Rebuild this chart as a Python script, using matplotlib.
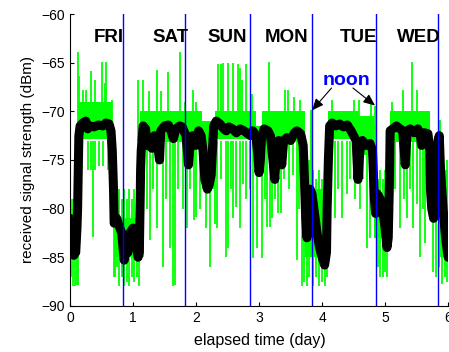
import matplotlib
matplotlib.use("Agg")
import matplotlib.pyplot as plt

# ---------------- data ----------------
# green raw-signal band segments (start day, end day, low dBm, high dBm)
band_start = [0.00, 0.13, 0.66, 0.72, 1.11, 2.10, 2.30, 2.95, 3.05, 3.73, 4.10, 4.58, 4.83, 5.07, 5.72, 5.84]
band_end   = [0.13, 0.66, 0.72, 1.11, 2.10, 2.30, 2.95, 3.05, 3.73, 4.10, 4.58, 4.83, 5.07, 5.72, 5.84, 6.00]
band_lo    = [-85.0, -72.8, -80.0, -85.0, -73.2, -78.0, -72.8, -76.0, -73.2, -85.0, -72.8, -74.5, -83.0, -73.2, -81.0, -85.0]
band_hi    = [-80.0, -69.0, -72.0, -81.0, -70.0, -71.0, -70.0, -71.5, -70.0, -78.0, -70.0, -70.5, -79.0, -70.0, -77.0, -76.0]

# green raw-signal spikes (day, low dBm, high dBm)
spike_x = [0.127, 0.15, 0.20, 0.25, 0.34, 0.40, 0.50, 0.55, 0.57, 0.66,
           1.08, 1.16, 1.26, 1.38, 1.45, 1.56, 1.75, 1.83, 1.95, 2.00,
           2.35, 2.40, 2.43, 2.51, 2.59, 2.67, 2.70, 2.73, 2.80, 2.88,
           3.15, 3.41, 3.46, 3.55, 3.65, 3.83, 4.15, 4.50, 4.58, 4.78, 4.84,
           5.11, 5.29, 5.42, 5.50, 5.87,
           0.02, 0.05, 0.08, 0.11, 0.13,
           0.18, 0.29, 0.33, 0.36, 0.39, 0.46, 0.52, 0.60,
           0.69, 0.71, 0.75, 0.78, 0.82, 0.86, 0.90, 0.94, 0.98, 1.02, 1.06, 1.09,
           1.16, 1.22, 1.27, 1.32, 1.38, 1.48, 1.52, 1.59, 1.64, 1.67, 1.72, 1.79,
           1.85, 1.90, 1.96, 2.00, 2.06, 2.15, 2.22, 2.30,
           2.33, 2.40, 2.48, 2.51, 2.55, 2.59, 2.63, 2.70, 2.75, 2.80, 2.86, 2.91, 2.96, 3.04,
           3.10, 3.13, 3.18, 3.21, 3.26, 3.30, 3.35, 3.40, 3.48, 3.54, 3.60, 3.64,
           3.68, 3.72, 3.76, 3.80, 3.85, 3.90, 3.95, 4.00, 4.04, 4.08,
           4.12, 4.20, 4.26, 4.32, 4.40, 4.45, 4.52, 4.60, 4.65, 4.71, 4.76,
           4.88, 4.92, 4.96, 5.00, 5.03,
           5.10, 5.16, 5.24, 5.30, 5.34, 5.40, 5.45, 5.50, 5.56, 5.60, 5.64, 5.68,
           5.76, 5.80, 5.85, 5.90, 5.95, 5.99]
spike_lo = [-72, -72, -72, -72, -72, -72, -72, -72, -72, -72,
            -73, -73, -73, -73, -73, -73, -73, -73, -73, -73,
            -72, -72, -72, -72, -72, -72, -72, -72, -72, -72,
            -72, -72, -72, -72, -72, -80, -72, -72, -72, -72, -78,
            -72, -72, -72, -72, -74,
            -87.0, -88.0, -88.0, -87.9, -87.9,
            -78.4, -76.0, -76.0, -82.9, -76.0, -75.6, -75.6, -76.0,
            -87.0, -87.0, -86.0, -88.0, -87.0, -88.0, -87.5, -88.0, -87.0, -87.5, -87.0, -88.0,
            -85.0, -80.0, -83.2, -78.0, -82.0, -86.0, -79.0, -84.0, -88.0, -87.9, -78.0, -80.0,
            -82.0, -78.0, -81.2, -80.9, -80.0, -82.0, -86.0, -81.6,
            -82.0, -77.0, -85.0, -84.0, -78.0, -81.0, -79.8, -82.0, -77.5, -79.0, -78.0, -85.1, -84.0, -85.1,
            -79.0, -81.9, -81.9, -81.0, -79.0, -80.4, -80.4, -77.0, -78.0, -76.5, -85.3, -80.0,
            -88.0, -87.5, -88.0, -87.0, -88.0, -87.0, -88.0, -87.5, -88.0, -87.0,
            -83.0, -81.0, -78.0, -81.0, -78.5, -77.0, -79.0, -80.0, -77.0, -84.0, -83.0,
            -86.0, -87.0, -87.0, -86.5, -87.0,
            -79.0, -78.0, -82.0, -79.0, -81.0, -78.0, -82.0, -79.5, -85.0, -80.0, -83.5, -79.0,
            -86.5, -87.0, -86.0, -87.8, -87.0, -87.5]
spike_hi = [-63.9, -66.4, -67.8, -67.8, -65.9, -66.8, -64.9, -67.1, -64.9, -68.8,
            -66.8, -66.8, -67.9, -65.8, -67.9, -66.0, -63.9, -69.0, -67.8, -69.0,
            -65.1, -65.1, -65.0, -65.0, -65.0, -65.1, -65.5, -66.8, -65.1, -68.2,
            -64.9, -67.8, -67.8, -68.5, -68.8, -69.9, -68.8, -68.8, -68.8, -68.8, -69.4,
            -69.0, -67.8, -64.9, -67.8, -70.9,
            -79, -79, -79, -79, -78,
            -73, -73, -73, -73, -73, -73, -73, -73,
            -78, -79, -79, -78, -79, -78, -79, -78, -79, -78, -79, -78,
            -73, -73, -73, -73, -73, -73, -73, -73, -73, -73, -73, -73,
            -73, -73, -73, -73, -73, -76, -76, -73,
            -73, -73, -73, -73, -73, -73, -73, -73, -73, -73, -73, -73, -73, -73,
            -73, -73, -73, -73, -73, -73, -73, -73, -73, -73, -73, -73,
            -77, -76, -77, -75, -76, -77, -76, -77, -76, -77,
            -73, -73, -73, -73, -73, -73, -73, -73, -73, -73, -73,
            -77, -76, -77, -76, -77,
            -73, -73, -73, -73, -73, -73, -73, -73, -73, -73, -73, -73,
            -76, -75, -76, -75, -76, -75]

# black smoothed signal (day, dBm)
smooth_x = [0.00, 0.02, 0.04, 0.06, 0.09, 0.11, 0.12, 0.13, 0.14, 0.16,
            0.20, 0.25, 0.28, 0.32, 0.38, 0.45, 0.52, 0.57, 0.62, 0.65, 0.67, 0.69, 0.70,
            0.74, 0.78, 0.82, 0.84, 0.86, 0.89, 0.92, 0.95, 1.00, 1.03, 1.06, 1.08, 1.10, 1.11, 1.12, 1.13,
            1.16, 1.20, 1.22, 1.26, 1.30, 1.34, 1.38, 1.42, 1.44, 1.50, 1.56, 1.60, 1.64, 1.68, 1.74, 1.78,
            1.84, 1.88, 1.91, 1.95, 2.00, 2.04, 2.08, 2.11, 2.14, 2.18, 2.21, 2.24, 2.26, 2.28,
            2.32, 2.38, 2.44, 2.48, 2.52, 2.58, 2.64, 2.70, 2.76, 2.82, 2.86, 2.90, 2.95, 2.98, 3.00, 3.02, 3.04,
            3.08, 3.14, 3.18, 3.22, 3.25, 3.28, 3.31, 3.34, 3.36, 3.39, 3.44, 3.50, 3.56, 3.60, 3.66, 3.70,
            3.72, 3.74, 3.76, 3.79, 3.81, 3.84, 3.88, 3.92, 3.96, 4.00, 4.04, 4.07, 4.08, 4.10, 4.12,
            4.16, 4.22, 4.28, 4.34, 4.40, 4.46, 4.50, 4.54, 4.57, 4.60, 4.64, 4.70, 4.76, 4.80, 4.83, 4.85,
            4.88, 4.92, 4.96, 5.00, 5.03, 5.05, 5.07, 5.08,
            5.12, 5.18, 5.24, 5.28, 5.32, 5.35, 5.40, 5.46, 5.52, 5.56, 5.58, 5.62, 5.68, 5.71,
            5.72, 5.74, 5.77, 5.80, 5.82, 5.84, 5.86, 5.88, 5.92, 5.96, 6.00]
smooth_y = [-81.0, -81.5, -83.5, -84.8, -84.5, -82.0, -80.0, -76.0, -72.5, -71.5,
            -71.2, -71.0, -71.8, -71.5, -71.6, -71.4, -71.5, -71.2, -71.3, -72.0, -74.0, -78.0, -81.5,
            -81.0, -81.8, -82.5, -84.0, -85.3, -84.0, -84.5, -82.5, -82.0, -82.3, -84.0, -85.0, -84.5, -80.0, -76.0, -74.0,
            -71.5, -71.8, -73.5, -73.5, -73.8, -72.5, -73.0, -75.0, -72.0, -71.5, -71.4, -72.0, -72.8, -71.8, -71.5, -71.6,
            -72.5, -75.5, -73.0, -72.5, -73.5, -72.0, -72.5, -74.0, -77.0, -78.0, -77.5, -76.5, -74.0, -71.5,
            -71.0, -71.3, -71.8, -72.0, -71.6, -71.8, -72.2, -71.8, -72.0, -72.3, -72.5, -72.0, -72.5, -74.5, -76.3, -75.0, -72.5,
            -71.8, -72.0, -72.5, -75.0, -77.0, -73.5, -73.0, -74.0, -75.5, -73.0, -72.7, -73.0, -72.2, -72.0, -72.3, -73.5,
            -77.0, -81.0, -83.0, -80.0, -78.0, -78.5, -80.5, -82.5, -84.0, -85.0, -85.8, -84.5, -80.0, -75.0, -71.5,
            -71.2, -71.5, -71.3, -71.6, -71.4, -72.0, -72.5, -73.0, -77.0, -74.0, -73.0, -73.5, -73.3, -74.0, -79.0, -80.5,
            -78.5, -79.0, -80.0, -82.0, -84.0, -83.0, -77.0, -72.0,
            -71.8, -71.5, -71.8, -72.0, -75.5, -72.0, -71.8, -72.2, -71.8, -72.5, -73.5, -72.2, -72.3, -74.0,
            -78.0, -80.0, -81.0, -80.5, -78.0, -73.0, -72.5, -76.0, -80.0, -83.0, -85.0]

# noon markers and day labels
noon_x = [0.84, 1.83, 2.85, 3.84, 4.86, 5.84]
day_names = ["FRI", "SAT", "SUN", "MON", "TUE", "WED"]
day_label_x = [0.62, 1.60, 2.49, 3.43, 4.58, 5.54]
x_ticks = [0, 1, 2, 3, 4, 5, 6]
y_ticks = [-90, -85, -80, -75, -70, -65, -60]

# ---------------- plot ----------------
plt.rcParams['font.family'] = ['Liberation Sans', 'DejaVu Sans']
fig = plt.figure(figsize=(4.49, 3.52), dpi=100)
ax = fig.add_axes([0.156, 0.131, 0.842, 0.829])

for s, e, lo, hi in zip(band_start, band_end, band_lo, band_hi):
    ax.fill_between([s, e], [lo, lo], [hi, hi], color='#00ff00', lw=0)
ax.vlines(spike_x, spike_lo, spike_hi, color='#00ff00', lw=1.3)

ax.plot(smooth_x, smooth_y, color='black', lw=6.5, solid_capstyle='round',
        solid_joinstyle='round')

for nx in noon_x:
    ax.axvline(nx, color='#0000ff', lw=1.0)

for name, lx in zip(day_names, day_label_x):
    ax.text(lx, -62.45, name, ha='center', va='center', fontsize=13.5,
            fontweight='bold', color='black')

ax.text(4.38, -66.8, "noon", ha='center', va='center', fontsize=14,
        fontweight='bold', color='#0000ff')
arrow = dict(arrowstyle='-|>,head_length=0.7,head_width=0.3', color='black', lw=0.8,
             shrinkA=0, shrinkB=0)
ax.annotate("", xy=(3.84, -69.9), xytext=(4.15, -67.6), arrowprops=arrow)
ax.annotate("", xy=(4.84, -69.4), xytext=(4.49, -67.6), arrowprops=arrow)

ax.set_xlim(0, 6)
ax.set_ylim(-90, -60)
ax.set_xticks(x_ticks)
ax.set_yticks(y_ticks)
ax.tick_params(direction='in', length=3, labelsize=10)
ax.spines['top'].set_visible(False)
ax.spines['right'].set_visible(False)
ax.set_xlabel("elapsed time (day)", fontsize=11.5)
ax.set_ylabel("received signal strength (dBm)", fontsize=11)
ax.xaxis.set_label_coords(0.502, -0.094)
ax.yaxis.set_label_coords(-0.093, 0.5)

fig.savefig("out.png", dpi=100)
